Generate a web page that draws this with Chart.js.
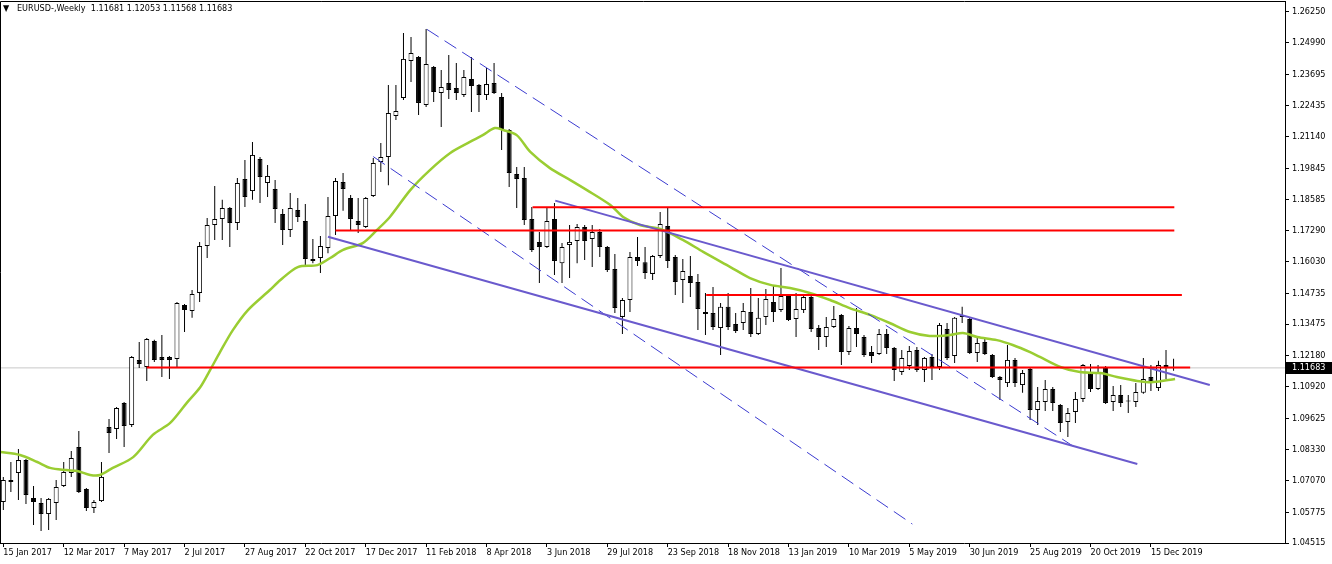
<!DOCTYPE html>
<html>
<head>
<meta charset="utf-8">
<title>EURUSD Weekly</title>
<script src="https://cdn.jsdelivr.net/npm/chart.js@4.4.1/dist/chart.umd.min.js"></script>
<style>
  html, body { margin: 0; padding: 0; background: #ffffff; overflow: hidden; }
  #chart { display: block; }
</style>
</head>
<body>
<canvas id="chart" width="1332" height="564"></canvas>
<script>
// weekly candles, week 0 = 15 Jan 2017
const opens = [
  1.0619, 1.0709, 1.0738, 1.0791, 1.0636, 1.0615, 1.0570, 1.0615,
  1.0685, 1.0738, 1.0844, 1.0673, 1.0595, 1.0623, 1.0926, 1.0918,
  1.1025, 1.0934, 1.1201, 1.1172, 1.1278, 1.1213, 1.1213, 1.1205,
  1.1426, 1.1401, 1.1475, 1.1667, 1.1753, 1.1778, 1.1823, 1.1761,
  1.1941, 1.1892, 1.2023, 1.1925, 1.1900, 1.1798, 1.1733, 1.1815,
  1.1770, 1.1614, 1.1618, 1.1659, 1.1790, 1.1929, 1.1864, 1.1770,
  1.1745, 1.1872, 1.2011, 1.2031, 1.2199, 1.2273, 1.2424, 1.2441,
  1.2244, 1.2400, 1.2293, 1.2334, 1.2314, 1.2285, 1.2351, 1.2326,
  1.2285, 1.2334, 1.2277, 1.2142, 1.1962, 1.1946, 1.1778, 1.1684,
  1.1663, 1.1778, 1.1597, 1.1671, 1.1688, 1.1745, 1.1696, 1.1724,
  1.1663, 1.1573, 1.1377, 1.1446, 1.1622, 1.1601, 1.1553, 1.1626,
  1.1749, 1.1622, 1.1528, 1.1544, 1.1520, 1.1397, 1.1393, 1.1332,
  1.1418, 1.1348, 1.1352, 1.1397, 1.1307, 1.1377, 1.1438, 1.1405,
  1.1463, 1.1368, 1.1405, 1.1458, 1.1332, 1.1295, 1.1336, 1.1385,
  1.1233, 1.1332, 1.1295, 1.1233, 1.1225, 1.1307, 1.1250, 1.1151,
  1.1176, 1.1241, 1.1160, 1.1213, 1.1172, 1.1327, 1.1217, 1.1385,
  1.1368, 1.1229, 1.1274, 1.1221, 1.1131, 1.1106, 1.1201, 1.1098,
  1.1164, 1.0996, 1.1029, 1.1082, 1.1016, 1.0947, 1.0988, 1.1041,
  1.1147, 1.1082, 1.1172, 1.1029, 1.1057, 1.1033, 1.1029, 1.1066,
  1.1131, 1.1086, 1.1180, 1.11681,
];
const highs = [
  1.0722, 1.0783, 1.0836, 1.0795, 1.0685, 1.0636, 1.0636, 1.0709,
  1.0783, 1.0828, 1.0910, 1.0677, 1.0628, 1.0783, 1.0959, 1.1008,
  1.1029, 1.1217, 1.1274, 1.1291, 1.1283, 1.1303, 1.1217, 1.1438,
  1.1430, 1.1487, 1.1684, 1.1782, 1.1913, 1.1856, 1.1827, 1.1946,
  1.2019, 1.2093, 1.2031, 1.1999, 1.1937, 1.1819, 1.1884, 1.1864,
  1.1839, 1.1696, 1.1708, 1.1868, 1.1946, 1.1966, 1.1876, 1.1864,
  1.1868, 1.2027, 1.2089, 1.2326, 1.2326, 1.2539, 1.2523, 1.2445,
  1.2555, 1.2404, 1.2388, 1.2449, 1.2416, 1.2388, 1.2441, 1.2330,
  1.2396, 1.2416, 1.2293, 1.2146, 1.1991, 1.1991, 1.1827, 1.1724,
  1.1823, 1.1843, 1.1679, 1.1753, 1.1757, 1.1753, 1.1753, 1.1737,
  1.1667, 1.1634, 1.1454, 1.1643, 1.1704, 1.1663, 1.1630, 1.1806,
  1.1823, 1.1630, 1.1614, 1.1626, 1.1553, 1.1475, 1.1499, 1.1434,
  1.1475, 1.1393, 1.1434, 1.1495, 1.1454, 1.1491, 1.1508, 1.1577,
  1.1471, 1.1475, 1.1467, 1.1467, 1.1344, 1.1377, 1.1422, 1.1389,
  1.1340, 1.1413, 1.1303, 1.1258, 1.1327, 1.1327, 1.1254, 1.1241,
  1.1258, 1.1254, 1.1213, 1.1225, 1.1352, 1.1352, 1.1377, 1.1418,
  1.1373, 1.1291, 1.1287, 1.1225, 1.1135, 1.1262, 1.1209, 1.1160,
  1.1168, 1.1090, 1.1119, 1.1090, 1.1020, 1.1004, 1.1070, 1.1184,
  1.1184, 1.1180, 1.1176, 1.1094, 1.1098, 1.1057, 1.1106, 1.1209,
  1.1180, 1.1197, 1.1241, 1.12053,
];
const lows = [
  1.0587, 1.0660, 1.0628, 1.0611, 1.0525, 1.0501, 1.0505, 1.0546,
  1.0681, 1.0722, 1.0656, 1.0582, 1.0574, 1.0619, 1.0820, 1.0877,
  1.0844, 1.0926, 1.1168, 1.1115, 1.1192, 1.1131, 1.1123, 1.1172,
  1.1315, 1.1373, 1.1438, 1.1618, 1.1692, 1.1692, 1.1663, 1.1733,
  1.1827, 1.1856, 1.1843, 1.1868, 1.1761, 1.1671, 1.1704, 1.1765,
  1.1585, 1.1597, 1.1557, 1.1638, 1.1712, 1.1811, 1.1733, 1.1720,
  1.1741, 1.1868, 1.1970, 1.1916, 1.2183, 1.2265, 1.2338, 1.2203,
  1.2236, 1.2257, 1.2154, 1.2269, 1.2265, 1.2277, 1.2216, 1.2216,
  1.2265, 1.2289, 1.2060, 1.1909, 1.1823, 1.1753, 1.1643, 1.1516,
  1.1659, 1.1548, 1.1516, 1.1536, 1.1597, 1.1610, 1.1581, 1.1622,
  1.1561, 1.1393, 1.1307, 1.1397, 1.1585, 1.1532, 1.1528, 1.1618,
  1.1577, 1.1467, 1.1434, 1.1458, 1.1323, 1.1303, 1.1323, 1.1221,
  1.1323, 1.1311, 1.1323, 1.1295, 1.1303, 1.1344, 1.1356, 1.1397,
  1.1360, 1.1295, 1.1393, 1.1315, 1.1241, 1.1254, 1.1332, 1.1180,
  1.1221, 1.1254, 1.1213, 1.1188, 1.1221, 1.1225, 1.1115, 1.1139,
  1.1160, 1.1151, 1.1110, 1.1119, 1.1160, 1.1201, 1.1188, 1.1352,
  1.1225, 1.1192, 1.1221, 1.1127, 1.1037, 1.1090, 1.1090, 1.1066,
  1.0955, 1.0934, 1.0992, 1.0992, 1.0906, 1.0885, 1.0943, 1.1029,
  1.1070, 1.1078, 1.1020, 1.0992, 1.1008, 1.0984, 1.1008, 1.1062,
  1.1074, 1.1074, 1.1123, 1.11568,
];
const closes = [
  1.0709, 1.0701, 1.0791, 1.0648, 1.0619, 1.0570, 1.0632, 1.0681,
  1.0742, 1.0799, 1.0660, 1.0595, 1.0619, 1.0722, 1.0902, 1.1004,
  1.0930, 1.1213, 1.1184, 1.1287, 1.1201, 1.1201, 1.1201, 1.1434,
  1.1405, 1.1471, 1.1667, 1.1753, 1.1778, 1.1823, 1.1761, 1.1925,
  1.1868, 1.2040, 1.1950, 1.1954, 1.1819, 1.1733, 1.1823, 1.1786,
  1.1614, 1.1606, 1.1667, 1.1790, 1.1933, 1.1900, 1.1778, 1.1753,
  1.1864, 1.2007, 1.2031, 1.2212, 1.2220, 1.2433, 1.2457, 1.2253,
  1.2412, 1.2298, 1.2318, 1.2306, 1.2293, 1.2359, 1.2322, 1.2285,
  1.2330, 1.2293, 1.2142, 1.1966, 1.1941, 1.1774, 1.1651, 1.1663,
  1.1770, 1.1606, 1.1663, 1.1684, 1.1745, 1.1688, 1.1724, 1.1663,
  1.1569, 1.1413, 1.1446, 1.1622, 1.1606, 1.1557, 1.1626, 1.1757,
  1.1606, 1.1520, 1.1565, 1.1516, 1.1409, 1.1389, 1.1336, 1.1418,
  1.1336, 1.1319, 1.1401, 1.1307, 1.1373, 1.1450, 1.1397, 1.1463,
  1.1364, 1.1409, 1.1458, 1.1327, 1.1295, 1.1336, 1.1368, 1.1233,
  1.1332, 1.1307, 1.1221, 1.1217, 1.1307, 1.1250, 1.1160, 1.1209,
  1.1237, 1.1160, 1.1209, 1.1172, 1.1344, 1.1209, 1.1373, 1.1377,
  1.1229, 1.1270, 1.1225, 1.1131, 1.1119, 1.1201, 1.1106, 1.1147,
  1.0996, 1.1033, 1.1082, 1.1025, 1.0943, 1.0984, 1.1041, 1.1180,
  1.1082, 1.1147, 1.1025, 1.1057, 1.1025, 1.1031, 1.1070, 1.1123,
  1.1106, 1.1180, 1.1172, 1.11683,
];

// moving average (week, price)
const maWeeks = [
  -0.4, 2.2, 4.5, 6.2, 8.4, 9.8, 11.5, 12.8, 14.5, 17.2,
  19.8, 22.1, 24.3, 26.1, 27.4, 28.7, 30.4, 32.4, 35.3, 36.7,
  39.0, 41.6, 43.3, 45.0, 47.6, 49.5, 51.2, 53.9, 56.5, 59.2,
  61.8, 63.5, 65.1, 66.2, 68.0, 69.8, 72.4, 75.1, 77.3, 80.4,
  82.1, 84.3, 87.0, 90.0, 92.7, 96.3, 98.9, 101.6, 104.2, 106.8,
  109.5, 112.1, 114.8, 117.4, 120.1, 122.7, 125.4, 127.1, 129.0, 131.6,
  133.7, 136.0, 137.3, 140.0, 142.6, 145.3, 147.5, 150.2, 152.3, 155.2,
];
const maValues = [
  1.0824, 1.0812, 1.0783, 1.0759, 1.0750, 1.0746, 1.0730, 1.0730, 1.0759, 1.0803,
  1.0894, 1.0943, 1.1025, 1.1090, 1.1160, 1.1233, 1.1323, 1.1405, 1.1487, 1.1528,
  1.1581, 1.1589, 1.1618, 1.1651, 1.1679, 1.1733, 1.1786, 1.1896, 1.1978, 1.2048,
  1.2093, 1.2121, 1.2150, 1.2142, 1.2121, 1.2052, 1.1986, 1.1937, 1.1896, 1.1835,
  1.1786, 1.1753, 1.1737, 1.1692, 1.1643, 1.1581, 1.1536, 1.1508, 1.1495, 1.1475,
  1.1446, 1.1413, 1.1385, 1.1352, 1.1315, 1.1299, 1.1303, 1.1311, 1.1295, 1.1282,
  1.1262, 1.1233, 1.1213, 1.1172, 1.1151, 1.1147, 1.1131, 1.1115, 1.1110, 1.1123,
];

// horizontal levels: price, first week, last week
const levelPrices = [1.1170, 1.1467, 1.1731, 1.1826];
const levelFrom = [19.0, 93.1, 44.0, 70.1];
const levelTo = [157.2, 156.1, 155.1, 155.1];

// trend lines: [week, price] -> [week, price]
const channelLines = [
  [[73.1, 1.1853], [159.8, 1.1098]],
  [[43.0, 1.1705], [150.2, 1.0775]],
];
const dashedLines = [
  [[56.1, 1.2554], [141.9, 1.0844]],
  [[49.0, 1.2033], [120.4, 1.0529]],
];

// axis labels
const tickWeeks = [0, 8, 16, 24, 32, 40, 48, 56, 64, 72, 80, 88, 96, 104, 112, 120, 128, 136, 144, 152];
const tickLabels = [
  "15 Jan 2017", "12 Mar 2017", "7 May 2017", "2 Jul 2017", "27 Aug 2017",
  "22 Oct 2017", "17 Dec 2017", "11 Feb 2018", "8 Apr 2018", "3 Jun 2018",
  "29 Jul 2018", "23 Sep 2018", "18 Nov 2018", "13 Jan 2019", "10 Mar 2019",
  "5 May 2019", "30 Jun 2019", "25 Aug 2019", "20 Oct 2019", "15 Dec 2019",
];
const priceTicks = [
  1.26250, 1.24990, 1.23695, 1.22435, 1.21140, 1.19845, 1.18585, 1.17290, 1.16030,
  1.14735, 1.13475, 1.12180, 1.10920, 1.09625, 1.08330, 1.07070, 1.05775, 1.04515,
];

const FONT = "'DejaVu Sans Condensed', 'DejaVu Sans', sans-serif";
const X_MIN = -0.44;
const X_MAX = 169.76;

document.addEventListener("DOMContentLoaded", function () {
  Chart.defaults.font.family = FONT;
  Chart.defaults.font.size = 9;
  Chart.defaults.color = "#000000";

  const last = opens.length - 1;
  const lastPrice = closes[last];

  const weeks = opens.map((_, i) => i);

  // simple line helper for levels / trend lines
  const lineSet = (points, color, width, dash, order) => ({
    type: "line",
    data: points.map(([x, y]) => ({ x: x, y: y })),
    borderColor: color,
    borderWidth: width,
    borderDash: dash || [],
    pointRadius: 0,
    pointHoverRadius: 0,
    fill: false,
    tension: 0,
    order: order,
  });

  const datasets = [];

  levelPrices.forEach((p, i) => {
    datasets.push(lineSet([[levelFrom[i], p], [levelTo[i], p]], "#ff0000", 2, null, 0));
  });
  channelLines.forEach((l) => datasets.push(lineSet(l, "#6a5acd", 2, null, 0)));
  dashedLines.forEach((l) => datasets.push(lineSet(l, "#3b3bd0", 1, [14, 7], 0)));

  const ma = lineSet(maWeeks.map((w, i) => [w, maValues[i]]), "#9acd32", 2.5, null, 1);
  ma.tension = 0.3;
  datasets.push(ma);

  // candle bodies
  datasets.push({
    type: "bar",
    data: weeks.map((i) => ({ x: i, y: [opens[i], closes[i]] })),
    backgroundColor: weeks.map((i) => (closes[i] >= opens[i] ? "#ffffff" : "#000000")),
    borderColor: "#000000",
    borderWidth: 1,
    borderSkipped: false,
    maxBarThickness: 5,
    minBarLength: 1,
    inflateAmount: 0,
    grouped: false,
    order: 2,
  });

  // wicks
  datasets.push({
    type: "bar",
    data: weeks.map((i) => ({ x: i, y: [lows[i], highs[i]] })),
    backgroundColor: "#000000",
    borderWidth: 0,
    maxBarThickness: 1,
    inflateAmount: 0,
    grouped: false,
    order: 3,
  });

  // current price line
  datasets.push(lineSet([[X_MIN, lastPrice], [X_MAX, lastPrice]], "#c8c8c8", 1, null, 4));

  const headerText =
    "EURUSD-,Weekly  " +
    [opens[last], highs[last], lows[last], closes[last]].map((v) => v.toFixed(5)).join(" ");

  const overlay = {
    id: "overlay",
    afterDraw(chart) {
      const { ctx, chartArea, scales } = chart;
      ctx.save();
      // frame: top and left edges
      ctx.strokeStyle = "#000000";
      ctx.lineWidth = 1;
      ctx.beginPath();
      ctx.moveTo(chartArea.right + 1, chartArea.top - 0.5);
      ctx.lineTo(0.5, chartArea.top - 0.5);
      ctx.lineTo(0.5, chartArea.bottom);
      ctx.stroke();

      // symbol header
      ctx.fillStyle = "#000000";
      ctx.textBaseline = "middle";
      ctx.font = "9px " + FONT;
      ctx.fillText("\u25BC", 3, 9);
      ctx.fillText(headerText, 17, 9);

      // current price tag on the scale
      const y = Math.round(scales.y.getPixelForValue(lastPrice));
      ctx.fillStyle = "#000000";
      ctx.fillRect(chartArea.right + 1, y - 6, 46, 12);
      ctx.fillStyle = "#ffffff";
      ctx.fillText(lastPrice.toFixed(5), chartArea.right + 7, y);
      ctx.restore();
    },
  };

  new Chart(document.getElementById("chart"), {
    type: "bar",
    data: { datasets: datasets },
    options: {
      responsive: false,
      maintainAspectRatio: false,
      animation: false,
      devicePixelRatio: 1,
      events: [],
      layout: { padding: { top: 2, left: 0, right: 0, bottom: 0 } },
      plugins: {
        legend: { display: false },
        tooltip: { enabled: false },
      },
      scales: {
        x: {
          type: "linear",
          min: X_MIN,
          max: X_MAX,
          offset: false,
          grid: {
            display: true,
            offset: false,
            drawOnChartArea: false,
            drawTicks: true,
            tickLength: 4,
            tickColor: "#000000",
          },
          border: { display: true, color: "#000000", width: 1 },
          afterBuildTicks: (scale) => {
            scale.ticks = tickWeeks.map((v) => ({ value: v }));
          },
          afterFit: (scale) => {
            scale.height = 21;
            scale.paddingLeft = 0;
            scale.paddingRight = 0;
          },
          ticks: {
            autoSkip: false,
            maxRotation: 0,
            minRotation: 0,
            align: "start",
            padding: 0,
            color: "#000000",
            font: { size: 9 },
            callback: (value) => tickLabels[tickWeeks.indexOf(value)],
          },
        },
        y: {
          type: "linear",
          position: "right",
          min: 1.04515,
          max: 1.26659,
          grid: {
            display: true,
            drawOnChartArea: false,
            drawTicks: true,
            tickLength: 4,
            tickColor: "#000000",
          },
          border: { display: true, color: "#000000", width: 1 },
          afterBuildTicks: (scale) => {
            scale.ticks = priceTicks.map((v) => ({ value: v }));
          },
          afterFit: (scale) => {
            scale.width = 47;
            scale.paddingTop = 0;
            scale.paddingBottom = 0;
          },
          ticks: {
            padding: 3,
            color: "#000000",
            font: { size: 9 },
            callback: (value) => value.toFixed(5),
          },
        },
      },
    },
    plugins: [overlay],
  });
});
</script>
</body>
</html>
